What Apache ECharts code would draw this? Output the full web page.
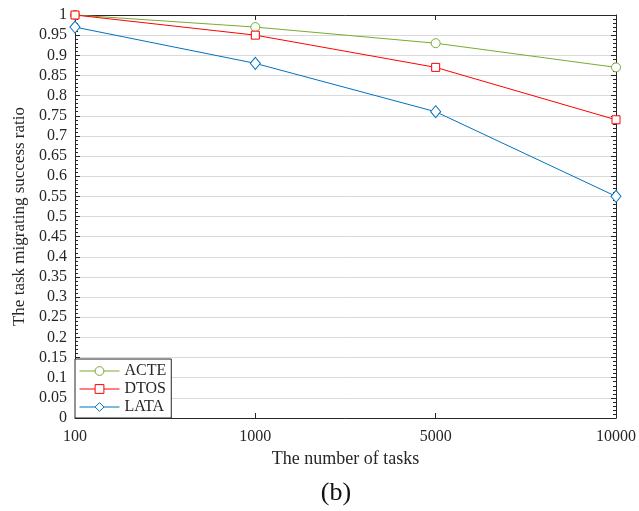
<!DOCTYPE html>
<html>
<head>
<meta charset="utf-8">
<script src="https://cdn.jsdelivr.net/npm/echarts@6/dist/echarts.min.js"></script>
<style>
  html, body { margin: 0; padding: 0; background: #fff; }
  #chart { width: 639px; height: 511px; }
</style>
</head>
<body>
<div id="chart"></div>
<script type="text/javascript">
	var taskCounts = ['100', '1000', '5000', '10000'];
	var acte = [1, 0.97, 0.93, 0.87];
	var dtos = [1, 0.95, 0.87, 0.74];
	var lata = [0.97, 0.88, 0.76, 0.55];

	var serif = '"Liberation Serif", "Times New Roman", serif';
	var axisColor = '#262626';

	function makeLine(name, data, color, symbol, size) {
		return {
			name: name,
			type: 'line',
			data: data,
			symbol: symbol,
			symbolSize: size,
			lineStyle: { color: color, width: 1 },
			itemStyle: { color: '#fff', borderColor: color, borderWidth: 1 },
			z: 3
		};
	}

	var yBase = {
		type: 'value',
		min: 0,
		max: 1,
		interval: 0.05,
		axisLine: { show: true, onZero: false, lineStyle: { color: axisColor, width: 1 } },
		axisTick: { show: true, inside: true, length: 5, lineStyle: { color: axisColor } },
		minorTick: { show: true, splitNumber: 5, length: 3, lineStyle: { color: axisColor } }
	};

	var myChart = echarts.init(document.getElementById('chart'));
	var option = {
		animation: false,
		grid: { left: 75, right: 21, top: 15, bottom: 93 },
		legend: {
			orient: 'vertical',
			left: 75,
			bottom: 93,
			backgroundColor: '#fff',
			borderColor: axisColor,
			borderWidth: 1,
			borderRadius: 0,
			padding: [4, 5, 3, 4],
			itemGap: 2,
			itemWidth: 40,
			itemHeight: 11,
			itemStyle: { borderWidth: 1 },
			lineStyle: { width: 1 },
			textStyle: { fontFamily: serif, fontSize: 16, color: axisColor },
			data: ['ACTE', 'DTOS', 'LATA']
		},
		xAxis: [{
			type: 'category',
			data: taskCounts,
			boundaryGap: false,
			name: 'The number of tasks',
			nameLocation: 'middle',
			nameGap: 32,
			nameTextStyle: { fontFamily: serif, fontSize: 18, color: axisColor },
			axisLine: { show: true, onZero: false, lineStyle: { color: axisColor, width: 1 } },
			axisTick: { show: true, inside: true, length: 5, lineStyle: { color: axisColor } },
			axisLabel: { fontFamily: serif, fontSize: 16, color: axisColor, margin: 11 },
			splitLine: { show: false }
		}, {
			type: 'category',
			data: taskCounts,
			boundaryGap: false,
			position: 'top',
			axisLine: { show: true, onZero: false, lineStyle: { color: axisColor, width: 1 } },
			axisTick: { show: true, inside: true, length: 5, lineStyle: { color: axisColor } },
			axisLabel: { show: false },
			splitLine: { show: false }
		}],
		yAxis: [Object.assign({}, yBase, {
			position: 'left',
			name: 'The task migrating success ratio',
			nameLocation: 'middle',
			nameGap: 47,
			nameTextStyle: { fontFamily: serif, fontSize: 17, color: axisColor },
			axisLabel: { fontFamily: serif, fontSize: 16, color: axisColor, margin: 8 },
			splitLine: { show: true, lineStyle: { color: '#d9d9d9', width: 1 } }
		}), Object.assign({}, yBase, {
			position: 'right',
			axisLabel: { show: false },
			splitLine: { show: false }
		})],
		graphic: [{
			type: 'text',
			x: 336,
			y: 493,
			style: {
				text: '(b)', fontFamily: serif, fontSize: 26, fill: '#111',
				textAlign: 'center', textVerticalAlign: 'middle'
			}
		}],
		series: [
			makeLine('ACTE', acte, '#77AC30', 'circle', 9),
			makeLine('DTOS', dtos, '#FF0000', 'rect', 8),
			makeLine('LATA', lata, '#0072BD', 'diamond', [10, 12])
		]
	};
	myChart.setOption(option);
</script>
</body>
</html>
